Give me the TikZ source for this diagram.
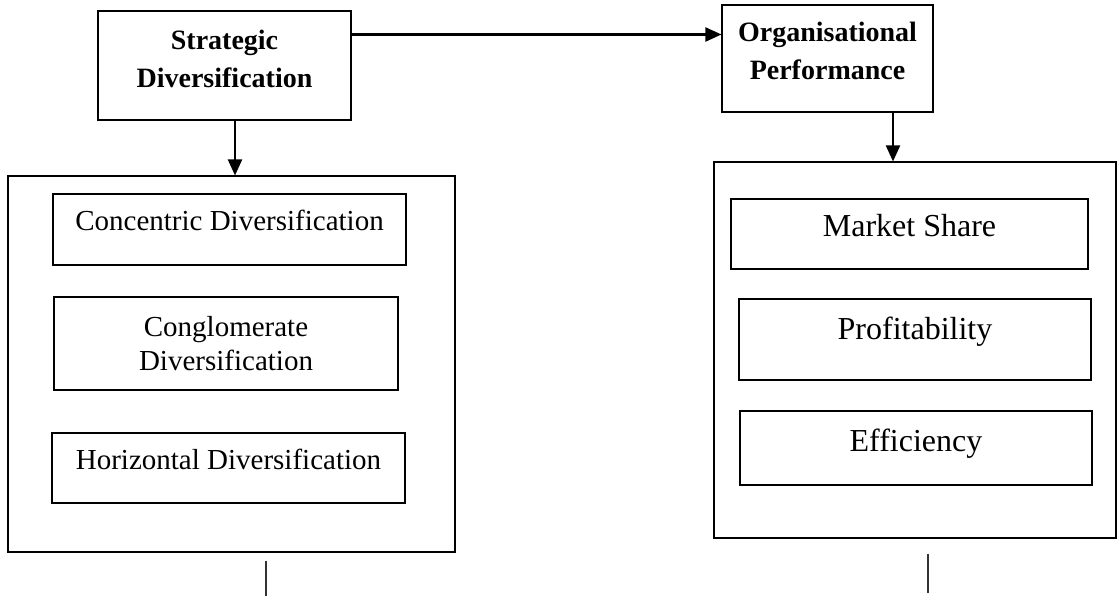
\documentclass[tikz,border=0pt]{standalone}
\usepackage{fontspec}
\setmainfont{Liberation Serif}
\usetikzlibrary{positioning,arrows.meta}
\newcommand{\lifted}[2]{\raisebox{0pt}[\height][\dimexpr\depth+#1\relax]{#2}}

\begin{document}
\begin{tikzpicture}[x=1pt,y=-1pt,
  box/.style={draw=black,line width=1.1pt,inner sep=0pt},
  headbox/.style={box,font=\fontsize{28}{38}\selectfont\bfseries},
  groupbox/.style={draw=black,line width=1.1pt,inner sep=0pt},
  itembox/.style={box,font=\fontsize{29}{34}\selectfont,text height=21pt,text depth=18pt},
  perfbox/.style={box,font=\fontsize{32}{36}\selectfont,text height=23pt,text depth=17pt},
  arr/.style={-{Triangle[length=16pt,width=14pt]},line width=2.2pt},
  stub/.style={draw=black!80,line width=1.3pt}]
  \useasboundingbox (0,0) rectangle (1117,596);
  % top level
  \node[headbox,minimum width=253pt,minimum height=109pt] (strat) at (224.5,65.5)
    {\lifted{9pt}{\begin{tabular}{@{}c@{}}Strategic\\Diversification\end{tabular}}};
  \node[headbox,minimum width=211pt,minimum height=107pt] (org) at (827.5,58.5)
    {\lifted{11pt}{\begin{tabular}{@{}c@{}}Organisational\\Performance\end{tabular}}};
  % groups
  \node[groupbox,minimum width=447pt,minimum height=376pt] (dset) at (231.5,364) {};
  \node[groupbox,minimum width=402pt,minimum height=376pt] (pset) at (915,350) {};
  % diversification types
  \node[itembox,minimum width=353pt,minimum height=71pt] (conc) at (229.5,229.5) {Concentric Diversification};
  \node[box,align=center,font=\fontsize{29}{34}\selectfont,minimum width=344pt,minimum height=93pt] (cong) at (226,343.5) {Conglomerate\\Diversification};
  \node[itembox,minimum width=353pt,minimum height=70pt] (hori) at (228.5,468) {Horizontal Diversification};
  % performance measures
  \node[perfbox,minimum width=357pt,minimum height=70pt] (mshare) at (909.5,234) {Market Share};
  \node[perfbox,text depth=24pt,minimum width=352pt,minimum height=81pt] (profit) at (915,339.5) {Profitability};
  \node[perfbox,minimum width=352pt,minimum height=74pt] (effic) at (916,448) {Efficiency};
  % links
  \coordinate (link) at ([yshift=31pt]strat.east);
  \draw[arr] (link) -- (link -| org.west);
  \coordinate (sdown) at ([xshift=10.5pt]strat.south);
  \draw[arr] (sdown) -- (sdown |- dset.north);
  \coordinate (odown) at ([xshift=65.5pt]org.south);
  \draw[arr] (odown) -- (odown |- pset.north);
  % loose ends below the groups
  \coordinate (dend) at ([xshift=34.5pt,yshift=-8pt]dset.south);
  \draw[stub] (dend) -- ++(0,36);
  \coordinate (pend) at ([xshift=13pt,yshift=-15pt]pset.south);
  \draw[stub] (pend) -- ++(0,39);
\end{tikzpicture}
\end{document}
